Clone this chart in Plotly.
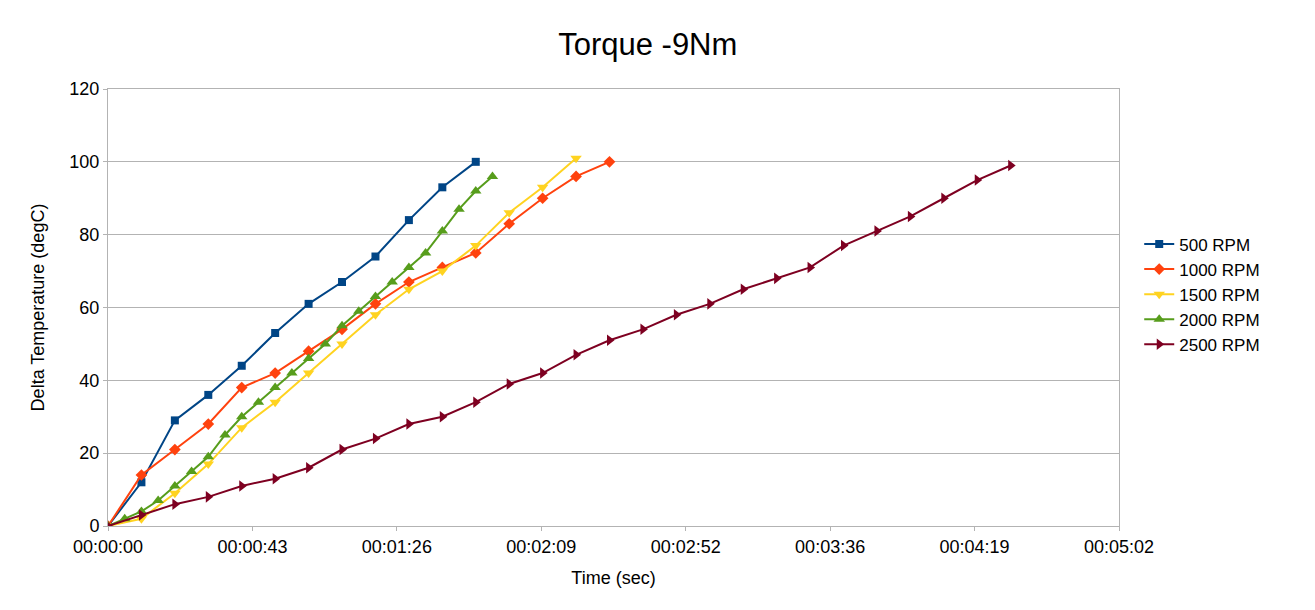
import plotly.graph_objects as go

# time in seconds, temperature rise in degC
t_10s = [0, 10, 20, 30, 40, 50, 60, 70, 80, 90, 100, 110, 120, 130, 140, 150,
         160, 170, 180, 190, 200, 210, 220, 230, 240, 250, 260, 270]
t_5s = [0, 5, 10, 15, 20, 25, 30, 35, 40, 45, 50, 55, 60, 65, 70, 75, 80, 85,
        90, 95, 100, 105, 110, 115]

rpm500 = [0, 12, 29, 36, 44, 53, 61, 67, 74, 84, 93, 100]
rpm1000 = [0, 14, 21, 28, 38, 42, 48, 54, 61, 67, 71, 75, 83, 90, 96, 100]
rpm1500 = [0, 2, 9, 17, 27, 34, 42, 50, 58, 65, 70, 77, 86, 93, 101]
rpm2000 = [0, 2, 4, 7, 11, 15, 19, 25, 30, 34, 38, 42, 46, 50, 55, 59, 63, 67,
           71, 75, 81, 87, 92, 96]
rpm2500 = [0, 3, 6, 8, 11, 13, 16, 21, 24, 28, 30, 34, 39, 42, 47, 51, 54, 58,
           61, 65, 68, 71, 77, 81, 85, 90, 95, 99]

tick_step = 43.2  # LibreOffice picked 0.0005 day steps
tick_labels = ["00:00:00", "00:00:43", "00:01:26", "00:02:09", "00:02:52",
               "00:03:36", "00:04:19", "00:05:02"]

series = [
    ("500 RPM", t_10s, rpm500, "#004586", "square", 8),
    ("1000 RPM", t_10s, rpm1000, "#ff420e", "diamond", 9),
    ("1500 RPM", t_10s, rpm1500, "#ffd320", "triangle-down", 10),
    ("2000 RPM", t_5s, rpm2000, "#579d1c", "triangle-up", 10),
    ("2500 RPM", t_10s, rpm2500, "#7e0021", "triangle-right", 10),
]

fig = go.Figure()
for name, xs, ys, col, sym, sz in series:
    fig.add_trace(go.Scatter(
        x=xs[:len(ys)], y=ys, name=name, mode="lines+markers",
        line=dict(color=col, width=2),
        marker=dict(symbol=sym, size=sz, color=col),
    ))

tickvals = [i * tick_step for i in range(len(tick_labels))]

fig.update_xaxes(
    range=[0, tickvals[-1]],
    tickvals=tickvals, ticktext=tick_labels,
    showgrid=False, zeroline=False,
    showline=True, linecolor="#b3b3b3", mirror=True,
    ticks="outside", ticklen=4, tickcolor="#b3b3b3",
    title=dict(text="Time (sec)", font=dict(size=18)),
    tickfont=dict(size=18),
)
fig.update_yaxes(
    range=[0, 120], dtick=20,
    showgrid=True, gridcolor="#b3b3b3", gridwidth=1, zeroline=False,
    showline=True, linecolor="#b3b3b3", mirror=True,
    ticks="outside", ticklen=4, tickcolor="#b3b3b3",
    title=dict(text="Delta Temperature (degC)", font=dict(size=18), standoff=20),
    tickfont=dict(size=18),
)

# the page sits 8px in from the window corner
fig.update_layout(
    width=1299, height=594,
    paper_bgcolor="white", plot_bgcolor="white",
    font=dict(family="Liberation Sans, Arial, sans-serif", color="black", size=16),
    title=dict(text="Torque -9Nm", x=0.4925, xanchor="center", y=0.939, yanchor="middle",
               font=dict(size=31)),
    margin=dict(l=100, r=188, t=81, b=76),
    legend=dict(x=1.02, y=0.53, xanchor="left", yanchor="middle",
                font=dict(size=17), tracegroupgap=0, itemwidth=30),
    showlegend=True,
)

fig.write_html("out.html")
